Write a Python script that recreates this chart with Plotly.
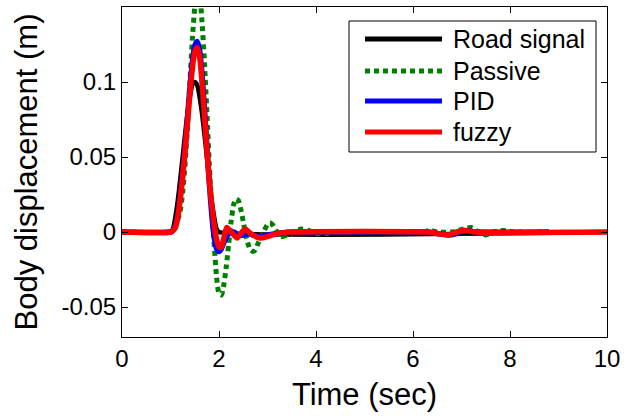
import plotly.graph_objects as go

# Time samples (s) and body displacement (m) for each run
road_t = [0, 1.0, 1.05, 1.1, 1.15, 1.2, 1.25, 1.3, 1.35, 1.4, 1.45, 1.5,
          1.55, 1.6, 1.65, 1.7, 1.75, 1.8, 1.85, 1.9, 1.95, 2.0, 10]
road_y = [0, 0, 0.002, 0.01, 0.021, 0.035, 0.05, 0.065, 0.079, 0.09, 0.098, 0.1,
          0.098, 0.09, 0.079, 0.065, 0.05, 0.035, 0.021, 0.01, 0.002, 0, 0]

passive_t = [0, 1.0, 1.05, 1.1, 1.15, 1.2, 1.25, 1.3, 1.35, 1.4, 1.45, 1.5, 1.55,
             1.6, 1.65, 1.7, 1.75, 1.8, 1.85, 1.9, 1.95, 2.0, 2.05, 2.1, 2.15,
             2.2, 2.25, 2.3, 2.35, 2.4, 2.45, 2.5, 2.55, 2.6, 2.65, 2.7, 2.75,
             2.8, 2.9, 3.0, 3.05, 3.1, 3.2, 3.3, 3.4, 3.55, 3.7, 3.85, 4.0, 4.2,
             4.4, 6.2, 6.35, 6.5, 6.8, 7.05, 7.2, 7.35, 7.5, 7.65, 7.85, 8.1, 8.8]
passive_y = [0, 0, 0.001, 0.004, 0.008, 0.014, 0.026, 0.045, 0.07, 0.1, 0.128,
             0.15, 0.162, 0.158, 0.14, 0.113, 0.08, 0.045, 0.016, -0.008, -0.03,
             -0.041, -0.042, -0.035, -0.023, -0.008, 0.007, 0.018, 0.022, 0.021,
             0.015, 0.007, -0.002, -0.008, -0.012, -0.013, -0.012, -0.008,
             -0.001, 0.005, 0.006, 0.005, 0.0, -0.003, -0.002, 0.0, 0.002, 0.001,
             -0.001, -0.001, 0, 0, 0.001, 0, 0, 0.002, 0.003, 0.0, -0.002, 0,
             0.001, 0, 0]

pid_t = [0, 1.0, 1.05, 1.1, 1.15, 1.2, 1.25, 1.3, 1.35, 1.4, 1.45, 1.5, 1.55,
         1.6, 1.65, 1.7, 1.75, 1.8, 1.85, 1.9, 1.95, 2.0, 2.05, 2.1, 2.2, 2.3,
         2.4, 2.5, 2.6, 2.7, 2.8, 2.9, 3.0, 3.2, 3.5, 4.0, 6.3, 6.5, 6.7, 6.9,
         7.05, 7.3, 8.8]
pid_y = [0, 0, 0.001, 0.004, 0.011, 0.023, 0.038, 0.056, 0.076, 0.096, 0.113,
         0.124, 0.127, 0.121, 0.105, 0.082, 0.057, 0.033, 0.012, -0.003, -0.011,
         -0.013, -0.011, -0.007, -0.001, 0.0, -0.002, -0.002, -0.001, -0.002,
         -0.003, -0.003, -0.002, -0.001, 0, 0, 0, -0.001, -0.002, -0.001, 0.001,
         0, 0]

fuzzy_t = [0, 1.0, 1.05, 1.1, 1.15, 1.2, 1.25, 1.3, 1.35, 1.4, 1.45, 1.5, 1.55,
           1.6, 1.65, 1.7, 1.75, 1.8, 1.85, 1.9, 1.95, 2.0, 2.05, 2.1, 2.16,
           2.25, 2.37, 2.45, 2.54, 2.65, 2.85, 3.0, 3.2, 3.5, 6.3, 6.5, 6.73,
           6.9, 7.07, 7.3, 10]
fuzzy_y = [0, 0, 0.001, 0.003, 0.01, 0.022, 0.037, 0.054, 0.073, 0.092, 0.109,
           0.12, 0.123, 0.117, 0.1, 0.078, 0.055, 0.034, 0.018, 0.005, -0.005,
           -0.01, -0.01, -0.004, 0.003, 0.0, -0.004, -0.001, 0.002, -0.001,
           -0.004, -0.003, -0.001, 0, 0, -0.001, -0.002, 0, 0.001, 0, 0]

series_names = ["Road signal", "Passive", "PID", "fuzzy"]
series_colors = ["#000000", "#008000", "#0000ff", "#ff0000"]
series_dash = ["solid", "5px,4px", "solid", "solid"]
series_width = [4.5, 5, 5.5, 5.5]

FONT = "Liberation Sans, Arial, sans-serif"
W, H = 637, 419
ML, MR, MT, MB = 122, 30, 7, 82
PW, PH = W - ML - MR, H - MT - MB

fig = go.Figure()
for name, tt, yy, col, dash, lw in zip(series_names,
                                       [road_t, passive_t, pid_t, fuzzy_t],
                                       [road_y, passive_y, pid_y, fuzzy_y],
                                       series_colors, series_dash, series_width):
    fig.add_trace(go.Scatter(
        x=tt, y=yy, mode="lines", name=name, showlegend=False,
        line=dict(color=col, width=lw, dash=dash, shape="spline", smoothing=0.6),
    ))


def px_x(px):
    return (px - ML) / PW


def px_y(py):
    return (H - MB - py) / PH


# Legend box drawn in the upper right of the axes
shapes = [dict(type="rect", xref="paper", yref="paper",
               x0=px_x(349), x1=px_x(596), y0=px_y(152), y1=px_y(21),
               line=dict(color="black", width=1), fillcolor="white", layer="above")]
annotations = []
row_y = [39, 71, 101, 132]
for name, col, dash, ry in zip(series_names, series_colors, series_dash, row_y):
    shapes.append(dict(type="line", xref="paper", yref="paper",
                       x0=px_x(365), x1=px_x(442), y0=px_y(ry), y1=px_y(ry),
                       line=dict(color=col, width=5, dash=dash),
                       layer="above"))
    annotations.append(dict(xref="paper", yref="paper", x=px_x(451), y=px_y(ry),
                            text=name, showarrow=False, xanchor="left",
                            yanchor="middle",
                            font=dict(family=FONT, size=25, color="black")))

axis_common = dict(showline=True, linecolor="black", linewidth=1, mirror="ticks",
                   ticks="inside", ticklen=6, tickcolor="black", showgrid=False,
                   zeroline=False, tickfont=dict(family=FONT, size=24, color="black"))

fig.update_layout(
    width=W, height=H, autosize=False,
    margin=dict(l=ML, r=MR, t=MT, b=MB),
    paper_bgcolor="white", plot_bgcolor="white",
    shapes=shapes, annotations=annotations,
    xaxis=dict(range=[0, 10], tickvals=[0, 2, 4, 6, 8, 10],
               title=dict(text="Time (sec)", standoff=12,
                          font=dict(family=FONT, size=31, color="black")),
               **axis_common),
    yaxis=dict(range=[-0.07, 0.15], tickvals=[-0.05, 0, 0.05, 0.1],
               ticktext=["-0.05", "0", "0.05", "0.1"],
               title=dict(text="Body displacement (m)", standoff=14,
                          font=dict(family=FONT, size=31, color="black")),
               **axis_common),
)

fig.write_html("out.html")
